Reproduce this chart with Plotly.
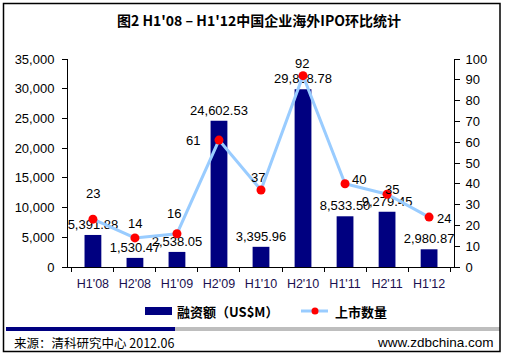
import plotly.graph_objects as go

categories = ["H1'08", "H2'08", "H1'09", "H2'09", "H1'10", "H2'10", "H1'11", "H2'11", "H1'12"]
amount = [5391.88, 1530.47, 2538.05, 24602.53, 3395.96, 29898.78, 8533.50, 9279.45, 2980.87]
count = [23, 14, 16, 61, 37, 92, 40, 35, 24]
# label offsets (pixels) for the count labels
count_dx = [0, 0, -3, -26, -3, -1, 14, 5, 15]
count_dy = [26, 14, 20, 0, 13, 12, 4, 5, -1]

W, H = 505, 355
L, R, T, B = 68, 454, 59, 267

def px(x):
    return (x - L) / (R - L)

def py(y):
    return (B - y) / (B - T)

NUM_FONT = "Liberation Sans, Arial"
CJK_FONT = "Noto Sans CJK SC"

fig = go.Figure()
fig.add_trace(go.Bar(
    x=categories, y=amount, name="融资额（US$M）",
    marker=dict(color="#000080", line=dict(width=0)), width=0.4,
    text=[f"{v:,.2f}" for v in amount], textposition="outside",
    constraintext="none",
    textfont=dict(family=NUM_FONT, size=13, color="#000000"),
    cliponaxis=False, showlegend=False,
))
fig.add_trace(go.Scatter(
    x=categories, y=count, name="上市数量", yaxis="y2", mode="lines+markers",
    line=dict(color="#99CCFF", width=3),
    marker=dict(color="#FF0000", size=9, symbol="circle"),
    cliponaxis=False, showlegend=False,
))

for c, v, dx, dy in zip(categories, count, count_dx, count_dy):
    fig.add_annotation(x=c, y=v, xref="x", yref="y2", text=str(v), showarrow=False,
                       xshift=dx, yshift=dy, xanchor="center", yanchor="middle",
                       font=dict(family=NUM_FONT, size=13, color="#000000"))

fig.update_layout(
    width=W, height=H,
    margin=dict(l=L, r=W - R, t=T, b=H - B, autoexpand=False),
    paper_bgcolor="white", plot_bgcolor="white",
    showlegend=False,
    xaxis=dict(showline=True, linecolor="#000000", linewidth=1, ticks="outside",
               tickson="boundaries", ticklen=4, tickcolor="#000000",
               ticklabelstandoff=5,
               tickfont=dict(family=NUM_FONT, size=12.5, color="#1a1050"),
               showgrid=False, fixedrange=True),
    yaxis=dict(range=[0, 35000], dtick=5000, tickformat=",d", showline=True,
               linecolor="#000000", linewidth=1, ticks="outside", ticklen=5,
               ticklabelstandoff=5,
               tickcolor="#000000", showgrid=False, zeroline=False,
               tickfont=dict(family=NUM_FONT, size=13, color="#000000")),
    yaxis2=dict(range=[0, 100], dtick=10, overlaying="y", side="right", showline=True,
                linecolor="#000000", linewidth=1, ticks="outside", ticklen=5,
                ticklabelstandoff=3,
                tickcolor="#000000", showgrid=False, zeroline=False,
                tickfont=dict(family=NUM_FONT, size=13, color="#000000")),
)

# Title
fig.add_annotation(text="<b>图2 H1'08 – H1'12中国企业海外IPO环比统计</b>",
                   xref="paper", yref="paper", x=px(259), y=py(20),
                   xanchor="center", yanchor="middle", showarrow=False,
                   font=dict(family=CJK_FONT, size=14, color="#000000"))

# Manual legend
fig.add_shape(type="rect", xref="paper", yref="paper",
              x0=px(145), x1=px(172), y0=py(315), y1=py(307),
              fillcolor="#000080", line=dict(width=0))
fig.add_annotation(text="<b>融资额（US$M）</b>", xref="paper", yref="paper",
                   x=px(175), y=py(311), xanchor="left", yanchor="middle", showarrow=False,
                   font=dict(family=CJK_FONT, size=13, color="#000000"))
fig.add_shape(type="line", xref="paper", yref="paper",
              x0=px(301), x1=px(328), y0=py(311), y1=py(311),
              line=dict(color="#99CCFF", width=3))
fig.add_shape(type="circle", xref="paper", yref="paper",
              x0=px(311.5), x1=px(318.5), y0=py(314.5), y1=py(307.5),
              fillcolor="#FF0000", line=dict(width=0))
fig.add_annotation(text="<b>上市数量</b>", xref="paper", yref="paper",
                   x=px(333), y=py(311), xanchor="left", yanchor="middle", showarrow=False,
                   font=dict(family=CJK_FONT, size=13, color="#000000"))

# Footer
fig.add_annotation(text="来源：清科研究中心 2012.06", xref="paper", yref="paper",
                   x=px(12), y=py(342), xanchor="left", yanchor="middle", showarrow=False,
                   font=dict(family=CJK_FONT, size=12.5, color="#000000"))
fig.add_annotation(text="www.zdbchina.com", xref="paper", yref="paper",
                   x=px(496), y=py(342), xanchor="right", yanchor="middle", showarrow=False,
                   font=dict(family=NUM_FONT, size=13.5, color="#000000"))

# Separator bars
fig.add_shape(type="rect", xref="paper", yref="paper",
              x0=px(6), x1=px(175), y0=py(331), y1=py(327),
              fillcolor="#000080", line=dict(width=0))
fig.add_shape(type="rect", xref="paper", yref="paper",
              x0=px(175), x1=px(500), y0=py(331), y1=py(327),
              fillcolor="#BEBEBE", line=dict(width=0))
# Outer border
fig.add_shape(type="rect", xref="paper", yref="paper",
              x0=px(3.5), x1=px(500), y0=py(3.5), y1=py(351.5),
              fillcolor="rgba(0,0,0,0)", line=dict(color="#000000", width=1.5))

fig.write_html("out.html", config={"displayModeBar": False},
               post_script="document.body.style.margin='0';document.body.style.overflow='hidden';")
